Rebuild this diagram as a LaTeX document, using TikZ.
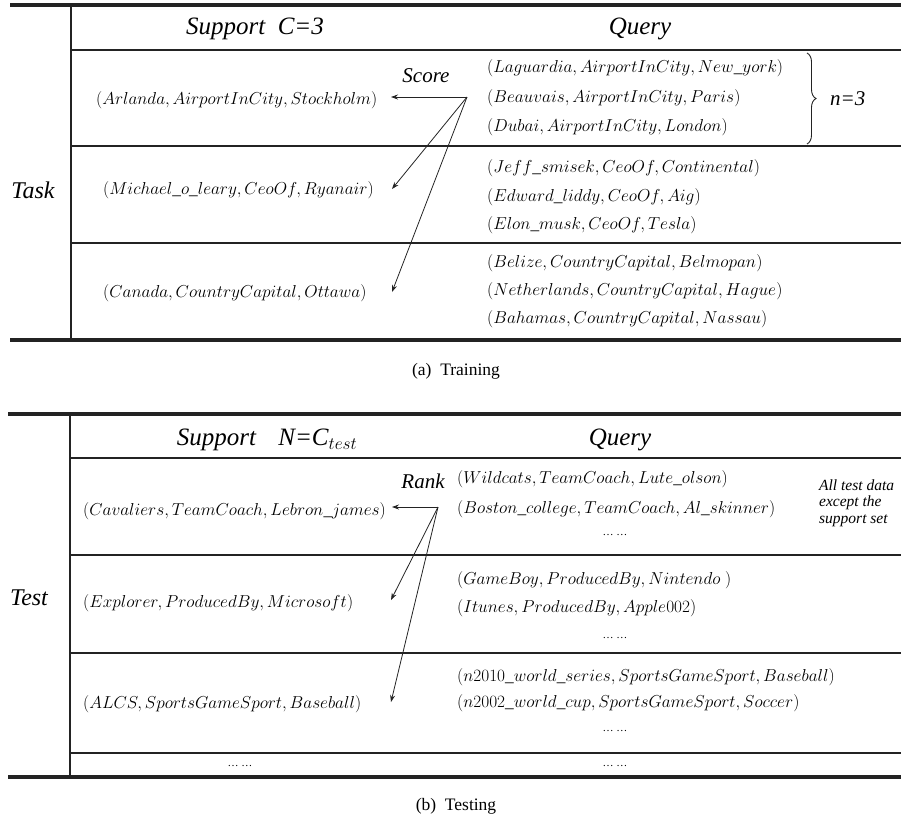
\documentclass[tikz,border=0pt]{standalone}
\usepackage{fontspec}
\setmainfont{Liberation Serif}
\newfontfamily\tnrit{LiberationSerif}[Extension=.ttf, UprightFont=*-Italic]
\usetikzlibrary{arrows.meta,decorations.pathreplacing}
\definecolor{ink}{RGB}{35,35,35}
\begin{document}
\begin{tikzpicture}[x=1pt,y=-1pt,
  thickrule/.style={line width=3.6pt, draw=ink},
  rule/.style={line width=1.5pt, draw=ink},
  hdr/.style={font=\fontsize{25}{28}\selectfont\tnrit, inner sep=0},
  side/.style={font=\fontsize{24}{28}\selectfont\tnrit, inner sep=0},
  lbl/.style={font=\fontsize{21}{24}\selectfont\tnrit, inner sep=0},
  note/.style={font=\fontsize{15.5}{17}\selectfont\tnrit, inner sep=0, anchor=west},
  trip/.style={font=\fontsize{17.28}{20}\selectfont, anchor=west, inner sep=0},
  dotstxt/.style={font=\fontsize{11}{12}\selectfont, inner sep=0},
  captxt/.style={font=\fontsize{17.5}{20}\selectfont, inner sep=0},
  arr/.style={-{Stealth[length=7pt,width=5pt]}, line width=0.8pt, draw=ink},
]
\useasboundingbox (0,0) rectangle (901,823);

% ---------- Training table ----------
\draw[thickrule] (10,5) -- (901,5);
\draw[rule] (71,5) -- (71,340);
\draw[rule] (71,50) -- (901,50);
\draw[rule] (71,146) -- (901,146);
\draw[rule] (71,243) -- (901,243);
\draw[thickrule] (10,340) -- (901,340);

\node[hdr] (supA) at (255,29) {Support\ \ C=3};
\node[hdr] (qryA) at (640,29) {Query};
\node[side] (task) at (33,190) {Task};
\node[lbl] (score) at (426,76) {Score};
\node[lbl, anchor=west] (nthree) at (830,99) {n=3};

\node[trip] (s1) at (96,100) {$(Arlanda, AirportInCity, Stockholm)$};
\node[trip] (s2) at (103,190) {$(Michael\_o\_leary, CeoOf, Ryanair)$};
\node[trip] (s3) at (103,293) {$(Canada, CountryCapital, Ottawa)$};

\node[trip] (q11) at (487,68) {$(Laguardia, AirportInCity, New\_york)$};
\node[trip] (q12) at (487,98) {$(Beauvais, AirportInCity, Paris)$};
\node[trip] (q13) at (487,127) {$(Dubai, AirportInCity, London)$};
\node[trip] (q21) at (487,168) {$(Jeff\_smisek, CeoOf, Continental)$};
\node[trip] (q22) at (487,197) {$(Edward\_liddy, CeoOf, Aig)$};
\node[trip] (q23) at (487,225) {$(Elon\_musk, CeoOf, Tesla)$};
\node[trip] (q31) at (487,263) {$(Belize, CountryCapital, Belmopan)$};
\node[trip] (q32) at (487,291) {$(Netherlands, CountryCapital, Hague)$};
\node[trip] (q33) at (487,319) {$(Bahamas, CountryCapital, Nassau)$};

\draw[decorate, decoration={brace, amplitude=9pt}, line width=0.9pt, draw=ink]
  (807,53) -- (807,144);

\coordinate (so) at (467,97);
\coordinate (sh1) at (391,97);
\coordinate (sh2) at (392,189);
\coordinate (sh3) at (392,292);
\draw[arr] (so) -- (sh1);
\draw[arr] (so) -- (sh2);
\draw[arr] (so) -- (sh3);

\node[captxt] (capA) at (456,371) {(a)\ \ Training};

% ---------- Testing table ----------
\draw[thickrule] (8,414) -- (901,414);
\draw[rule] (70,414) -- (70,777);
\draw[rule] (70,458) -- (901,458);
\draw[rule] (70,555) -- (901,555);
\draw[rule] (70,653) -- (901,653);
\draw[rule] (70,753) -- (901,753);
\draw[thickrule] (8,777) -- (901,777);

\node[hdr] (supB) at (267,440) {Support\hspace{0.9em}N=C$_{test}$};
\node[hdr] (qryB) at (620,440) {Query};
\node[side] (test) at (29,598) {Test};
\node[lbl] (rank) at (423,481) {Rank};

\node[trip] (t1) at (83,511) {$(Cavaliers, TeamCoach, Lebron\_james)$};
\node[trip] (t2) at (83,603) {$(Explorer, ProducedBy, Microsoft)$};
\node[trip] (t3) at (83,704) {$(ALCS, SportsGameSport, Baseball)$};
\node[dotstxt] (td) at (240,766) {\ldots\ \ldots};

\node[trip] (p11) at (457,479) {$(Wildcats, TeamCoach, Lute\_olson)$};
\node[trip] (p12) at (457,509) {$(Boston\_college, TeamCoach, Al\_skinner)$};
\node[dotstxt] (p13) at (615,535) {\ldots\ \ldots};
\node[trip] (p21) at (457,580) {$(GameBoy, ProducedBy, Nintendo\ )$};
\node[trip] (p22) at (457,608) {$(Itunes, ProducedBy, Apple002)$};
\node[dotstxt] (p23) at (615,638) {\ldots\ \ldots};
\node[trip] (p31) at (457,677) {$(n2010\_world\_series, SportsGameSport, Baseball)$};
\node[trip] (p32) at (457,703) {$(n2002\_world\_cup, SportsGameSport, Soccer)$};
\node[dotstxt] (p33) at (615,731) {\ldots\ \ldots};
\node[dotstxt] (pd) at (615,766) {\ldots\ \ldots};

\node[note] (n1) at (819,485) {All test data};
\node[note] (n2) at (819,503) {except the};
\node[note] (n3) at (819,521) {support set};

\coordinate (ro) at (438,507);
\coordinate (rh1) at (392,507);
\coordinate (rh2) at (391,600);
\coordinate (rh3) at (391,702);
\draw[arr] (ro) -- (rh1);
\draw[arr] (ro) -- (rh2);
\draw[arr] (ro) -- (rh3);

\node[captxt] (capB) at (456,806) {(b)\ \ Testing};
\end{tikzpicture}
\end{document}
